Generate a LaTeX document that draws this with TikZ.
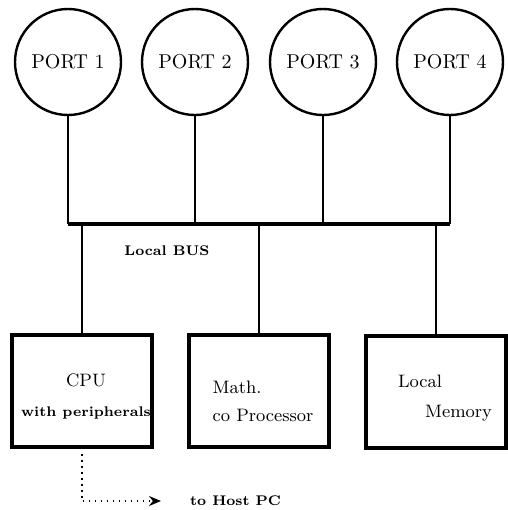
\documentclass[tikz,border=0pt]{standalone}
\usetikzlibrary{arrows.meta,positioning}
\begin{document}
\begin{tikzpicture}[x=0.5pt,y=-0.5pt,
  port/.style={draw,circle,line width=1.2pt,minimum size=53pt,inner sep=0pt},
  unit/.style={draw,line width=1.7pt,minimum width=70pt,minimum height=56pt},
  wire/.style={line width=0.7pt},
  bus/.style={line width=2pt},
  txt/.style={font=\small,inner sep=0pt},
  note/.style={font=\scriptsize\bfseries}]
\useasboundingbox (0,0) rectangle (508,510);
% ports on the local bus
\foreach \i/\x in {1/68,2/195,3/323,4/450}
  \node[port] (p\i) at (\x,62) {PORT \i};
\coordinate (busy) at (0,224);
\foreach \i in {1,...,4}
  \draw[wire] (p\i) -- (p\i |- busy);
\draw[bus] (p1 |- busy) -- (p4 |- busy);
\node[note] (buslbl) at (167,251) {Local BUS};
% units
\node[unit] (cpu) at (82,391) {};
\node[unit] (math) at (259,391) {};
\node[unit] (mem) at (436,392) {};
\node[txt,align=center] (cputxt) at (86,397) {CPU\\[4pt]{\scriptsize\bfseries with peripherals}};
\node[txt,align=left] (mathtxt) at (263,401) {Math.\\[3pt]co Processor};
\node[txt,align=left] (memtxt) at (445,398) {Local\\[4pt]\hspace*{13.5pt}Memory};
\foreach \u in {cpu,math,mem}
  \draw[wire] (\u) -- (\u |- busy);
% link to the host
\node[note,anchor=west] (host) at (183,501) {to Host PC};
\draw[line width=0.9pt,dash pattern=on 0.9pt off 2.1pt,-{Stealth[length=6pt,width=5pt]},shorten >=11pt]
  ([yshift=-2.5pt]cpu.south) |- (host.west);
\end{tikzpicture}
\end{document}
